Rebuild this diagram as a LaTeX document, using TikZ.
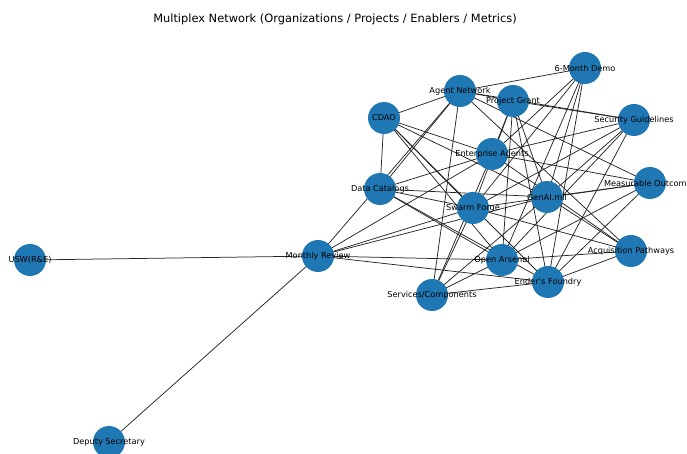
\documentclass[tikz,border=0pt]{standalone}
\usepackage{fontspec}
\setmainfont{DejaVu Sans}
\definecolor{nodeblue}{RGB}{31,119,180}

\begin{document}
\begin{tikzpicture}[x=1pt,y=-1pt,
  vertex/.style={circle,fill=nodeblue,inner sep=0pt,minimum size=32pt},
  tag/.style={font=\fontsize{8.2}{10}\selectfont,inner sep=0pt},
  link/.style={black!85,line width=0.75pt}]
\useasboundingbox (0,0) rectangle (687,454);
\node (title) at (335,19) {\fontsize{11.4}{14}\selectfont Multiplex Network (Organizations / Projects / Enablers / Metrics)};
% positions
\coordinate (demo) at (585,68);
\coordinate (agent) at (460,91);
\coordinate (grant) at (513,101);
\coordinate (cdao) at (384,118);
\coordinate (secg) at (634,120);
\coordinate (entag) at (492,154);
\coordinate (meas) at (650,183);
\coordinate (datac) at (380,189);
\coordinate (genai) at (547,197);
\coordinate (swarm) at (473,208);
\coordinate (acq) at (631,251);
\coordinate (review) at (318,256);
\coordinate (usw) at (30,260);
\coordinate (arsenal) at (502,260);
\coordinate (ender) at (548,282);
\coordinate (services) at (432,295);
\coordinate (deputy) at (109,442);
% edges
\foreach \p in {agent,entag,swarm,genai,arsenal,ender}
  \foreach \q in {cdao,datac,review,services,demo,secg,meas,acq,grant}
    \draw[link] (\p) -- (\q);
\draw[link] (cdao) -- (datac);
\draw[link] (grant) -- (secg);
\draw[link] (usw) -- (review);
\draw[link] (deputy) -- (review);
% nodes
\foreach \n in {demo,agent,grant,cdao,secg,entag,meas,datac,genai,swarm,acq,review,usw,arsenal,ender,services,deputy}
  \node[vertex] at (\n) {};
\node[tag] at (demo) {6-Month Demo};
\node[tag] at (agent) {Agent Network};
\node[tag] at (grant) {Project Grant};
\node[tag] at (cdao) {CDAO};
\node[tag] at (secg) {Security Guidelines};
\node[tag] at (entag) {Enterprise Agents};
\node[tag] at (meas) {Measurable Outcomes};
\node[tag] at (datac) {Data Catalogs};
\node[tag] at (genai) {GenAI.mil};
\node[tag] at (swarm) {Swarm Forge};
\node[tag] at (acq) {Acquisition Pathways};
\node[tag] at (review) {Monthly Review};
\node[tag] at (usw) {USW(R\&E)};
\node[tag] at (arsenal) {Open Arsenal};
\node[tag] at (ender) {Ender's Foundry};
\node[tag] at (services) {Services/Components};
\node[tag] at (deputy) {Deputy Secretary};
\end{tikzpicture}
\end{document}
